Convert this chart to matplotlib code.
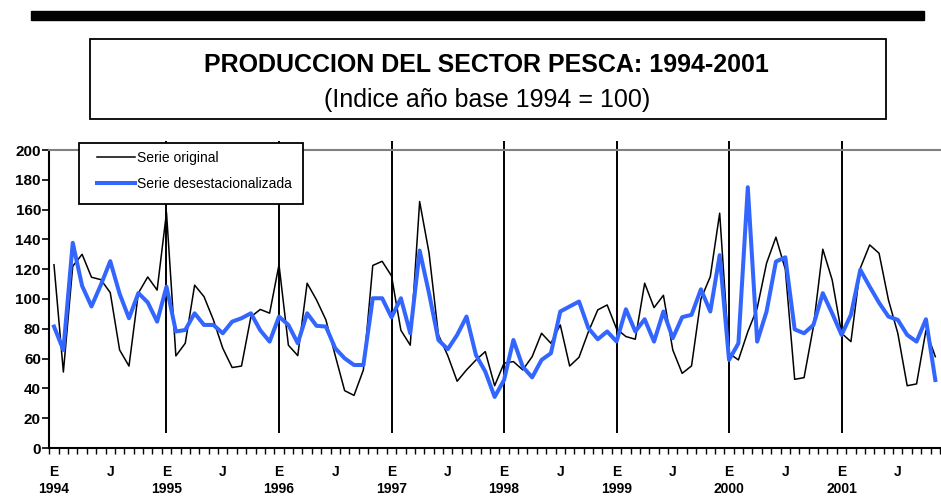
import numpy as np
import matplotlib.pyplot as plt
from matplotlib.patches import Rectangle
from matplotlib.transforms import blended_transform_factory

plt.rcParams['font.family'] = ['Liberation Sans', 'DejaVu Sans']

# monthly index, Jan 1994 .. Nov 2001
first_year = 1994
year_labels = [1994, 1995, 1996, 1997, 1998, 1999, 2000, 2001]
month_marks = {0: 'E', 6: 'J'}

serie_original = [
    123, 51, 122, 130, 114.6, 113, 104.3, 65.8, 55, 104, 114.8, 106,
    158, 61.8, 70.3, 109.3, 101.6, 86, 67, 54, 55, 88, 93, 90.5,
    123, 69, 62, 110.6, 99.4, 86, 62, 38.5, 35.3, 52.4, 122.5, 125.3,
    115.5, 79, 69, 165.4, 131, 76, 62, 44.8, 52.4, 59, 64.7, 41.8,
    56.9, 58, 52.4, 61.3, 77, 70.3, 82.6, 55, 60.9, 78, 92.7, 96,
    80, 74.8, 73, 110.6, 94.2, 102.5, 65.8, 50.1, 55.1, 100, 115, 157.6,
    63.6, 59.1, 78, 93.8, 124, 141.5, 120, 46.1, 47.2, 81.5, 133.4, 112.8,
    77, 71.4, 120.7, 136.3, 130.7, 99.4, 77, 41.8, 43, 79, 61.3,
]

serie_desest = [
    81.5, 65.8, 137.7, 108.8, 95, 109.5, 125.4, 103.5, 87.1, 104, 97.7, 84.8,
    108.3, 78.2, 79.2, 90.4, 82.6, 82.6, 77, 84.8, 87.1, 90.4, 79, 71.4,
    88.2, 82.6, 70.3, 90.4, 82, 81.5, 66.9, 60.2, 55.7, 55.7, 100.5, 100.5,
    87.7, 100.5, 77, 132.5, 103.9, 72.5, 66.3, 75.9, 88.2, 62.5, 51.3, 34.3,
    45.6, 72.5, 54.5, 47.4, 59.1, 63.6, 91.6, 95, 98.3, 80.4, 73, 78.2,
    71.5, 93.1, 78.2, 86.4, 71.4, 91.6, 73.7, 87.8, 89.4, 106.5, 91.6, 129.4,
    59.1, 70.3, 175, 71.4, 91.6, 125.1, 128, 79.6, 77, 82.6, 103.9, 90.4,
    75.9, 89.4, 119.6, 108.3, 97.5, 88.2, 86, 75.9, 71.4, 86.4, 45.6,
]

W, H = 941, 496
fig = plt.figure(figsize=(W / 100, H / 100), dpi=100)


def fx(px):
    return px / W


def fy(py):
    return 1 - py / H


# black bar and title box
fig.patches.append(Rectangle((fx(31), fy(20)), (924 - 31) / W, 9 / H,
                             transform=fig.transFigure, color='black'))
fig.patches.append(Rectangle((fx(90), fy(119)), (886 - 90) / W, (119 - 39) / H,
                             transform=fig.transFigure, fill=False,
                             ec='black', lw=1.3))
fig.text(fx(486), fy(65), 'PRODUCCION DEL SECTOR PESCA: 1994-2001',
         ha='center', va='center', fontsize=18, fontweight='bold')
fig.text(fx(487), fy(100), '(Indice año base 1994 = 100)',
         ha='center', va='center', fontsize=18)

ax_left, ax_right, ax_top, ax_bottom = 49.3, 940, 150, 448
ax = fig.add_axes([fx(ax_left), fy(ax_bottom), (ax_right - ax_left) / W,
                   (ax_bottom - ax_top) / H])

n = len(serie_original)
x = np.arange(n)
ax.plot(x, serie_original, color='black', lw=1.1, label='Serie original', zorder=3)
ax.plot(x, serie_desest, color='#3366ff', lw=2.9,
        label='Serie desestacionalizada', zorder=4)
ax.set_xlim(-0.5, n - 0.5)
ax.set_ylim(0, 200)

# year separators
year_idx = [(y - first_year) * 12 for y in year_labels[1:]]
ax.vlines(year_idx, 10, 206, colors='black', lw=1.4, clip_on=False, zorder=2)

for s in ['left', 'bottom']:
    ax.spines[s].set_linewidth(1.5)
ax.spines['right'].set_visible(False)
ax.spines['top'].set_color('#808080')
ax.spines['top'].set_linewidth(1.5)

ax.set_yticks(range(0, 201, 20))
ax.tick_params(axis='y', length=5, width=1.2, pad=1, labelsize=11)
for lab in ax.get_yticklabels():
    lab.set_fontweight('bold')

ax.set_xticks(np.arange(-0.5, n, 1), minor=True)
ax.tick_params(axis='x', which='minor', length=4, width=1.0, direction='out')
major = [i for i in range(n) if i % 12 in month_marks]
ax.set_xticks(major)
ax.set_xticklabels([month_marks[i % 12] for i in major], fontweight='bold',
                   fontsize=10)
ax.tick_params(axis='x', which='major', length=0, pad=12)

trans = blended_transform_factory(ax.transData, ax.transAxes)
for yr in year_labels:
    ax.text((yr - first_year) * 12, (ax_bottom - 489) / (ax_bottom - ax_top),
            str(yr), transform=trans, ha='center', va='center',
            fontsize=10, fontweight='bold')

# legend box
span_x = ax_right - ax_left
span_y = ax_bottom - ax_top
ax.add_patch(Rectangle(((79 - ax_left) / span_x, (ax_bottom - 204) / span_y),
                       (303 - 79) / span_x, (204 - 143) / span_y,
                       transform=ax.transAxes, fc='white', ec='black',
                       lw=1.3, clip_on=False, zorder=5))
leg = ax.legend(loc='upper left',
                bbox_to_anchor=((97 - ax_left) / span_x, (ax_bottom - 151) / span_y),
                borderaxespad=0, borderpad=0, frameon=False, fontsize=10,
                handlelength=2.75, handletextpad=0.1, labelspacing=0.85)
leg.set_zorder(6)

fig.savefig('out.png', dpi=100)
